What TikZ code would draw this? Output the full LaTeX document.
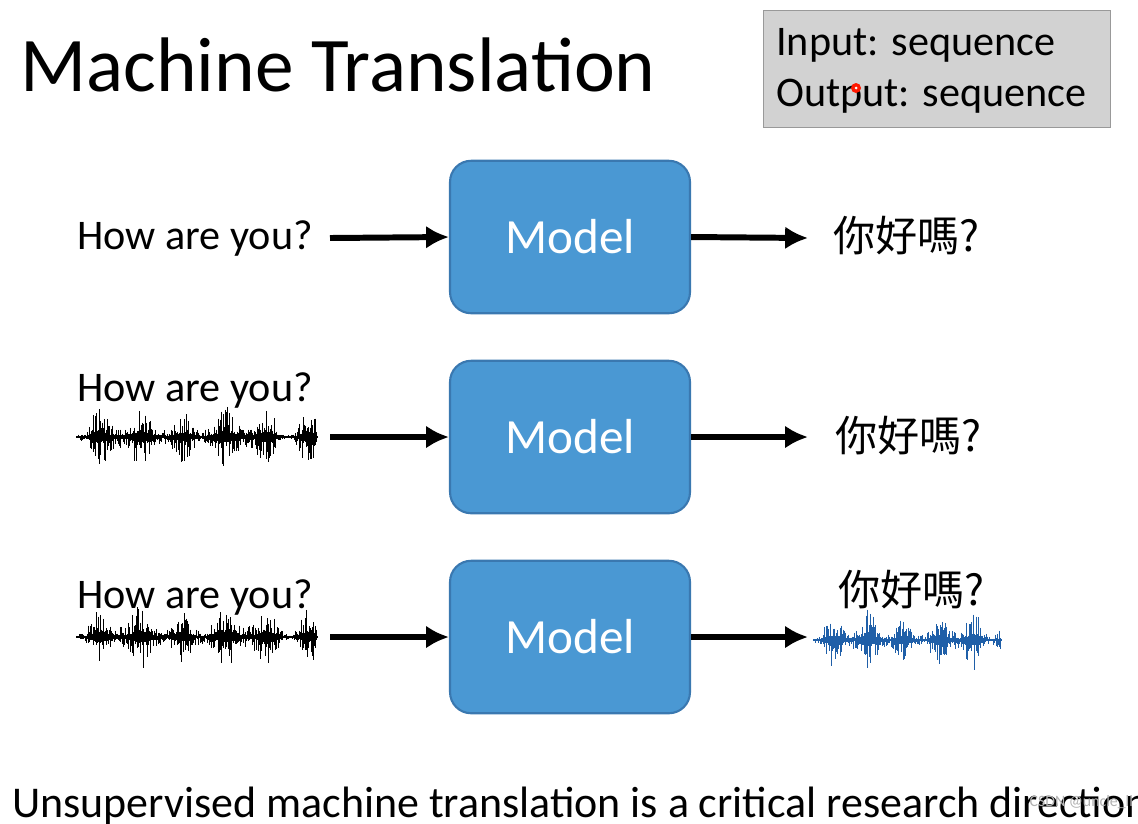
\documentclass[tikz,border=0pt]{standalone}
\usepackage{fontspec}
\setmainfont{Carlito}
\newfontfamily\cjk{Noto Sans CJK TC}
\usetikzlibrary{arrows.meta}
\begin{document}
\begin{tikzpicture}[x=0.02cm,y=-0.02cm,
  model/.style={draw=modelborder,line width=1.2pt,fill=modelfill,rounded corners=12pt,minimum width=4.8cm,minimum height=3.05cm,text=white,font=\fontsize{28}{32}\selectfont},
  arr/.style={line width=3.4pt,-{Latex[length=13pt,width=13pt]}},
  lab/.style={font=\fontsize{24}{28}\selectfont,anchor=west,inner sep=0pt},
  zh/.style={font=\cjk\fontsize{24}{28}\selectfont,anchor=west,inner sep=0pt}]
\definecolor{modelfill}{HTML}{4A98D3}
\definecolor{modelborder}{HTML}{3A78B0}
\definecolor{wave}{HTML}{1F5FA8}
\path[use as bounding box,fill=white] (0,0) rectangle (1138,823);
\clip (0,0) rectangle (1138,823);
\node[anchor=west,inner sep=0pt,font=\fontsize{44}{50}\selectfont] (title) at (20,65) {Machine Translation};
\node[draw=gray!80,fill=gray!35,minimum width=6.94cm,minimum height=2.34cm,anchor=north west] (io) at (763,10) {};
\node[lab] (in) at (776,45) {Input: sequence};
\node[lab] (out) at (776,96) {Output: sequence};
\fill[red!80!orange] (856,88) circle (5);
\fill[white] (856,88) circle (1.5);
% row 1
\node[model] (m1) at (570,237) {Model};
\node[lab] (t1) at (77,238) {How are you?};
\coordinate (s1) at (330,238);
\draw[arr] (s1) -- (m1.west);
\coordinate (e1) at (808,238);
\draw[arr] (m1.east) -- (e1);
\node[zh] (z1) at (833,236) {你好嗎?};
% row 2
\node[model] (m2) at (570,437) {Model};
\node[lab] (t2) at (77,390) {How are you?};
\coordinate (s2) at (330,437);
\draw[arr] (s2) -- (m2.west);
\coordinate (e2) at (808,437);
\draw[arr] (m2.east) -- (e2);
\node[zh] (z2) at (835,436) {你好嗎?};
% row 3
\node[model] (m3) at (570,637) {Model};
\node[lab] (t3) at (77,597) {How are you?};
\coordinate (s3) at (330,637);
\draw[arr] (s3) -- (m3.west);
\coordinate (e3) at (808,637);
\draw[arr] (m3.east) -- (e3);
\node[zh] (z3) at (838,590) {你好嗎?};
% waveforms
\pgfmathsetseed{7}
\foreach \cy in {437,637}{
  \foreach \i in {0,...,238}{
    \pgfmathsetmacro{\env}{3+22*abs(sin(\i*4.3))^3+8*abs(sin(\i*1.7))}
    \pgfmathsetmacro{\a}{\env*(0.15+0.85*rnd^2)}
    \pgfmathsetmacro{\b}{\env*(0.15+0.85*rnd^2)}
    \draw[line width=0.5pt] (78+\i,\cy-\a) -- (78+\i,\cy+\b);
  }
  \draw[line width=1pt] (76,\cy) -- (318,\cy);
}
\foreach \i in {0,...,185}{
  \pgfmathsetmacro{\env}{3+22*abs(sin(\i*5.1))^3+6*abs(sin(\i*1.9))}
  \pgfmathsetmacro{\a}{\env*(0.15+0.85*rnd^2)}
  \pgfmathsetmacro{\b}{\env*(0.15+0.85*rnd^2)}
  \draw[wave,line width=0.5pt] (815+\i,640-\a) -- (815+\i,640+\b);
}
\draw[wave,line width=1pt] (813,640) -- (1002,640);
\node[lab,font=\fontsize{25}{28}\selectfont] (bottom) at (12,806) {Unsupervised machine translation is a critical research direction.};
\node[anchor=east,inner sep=1pt,font=\fontsize{9}{10}\selectfont,text=gray!60] (wm) at (1135,802) {CSDN @uncle\_ll};
\end{tikzpicture}
\end{document}
